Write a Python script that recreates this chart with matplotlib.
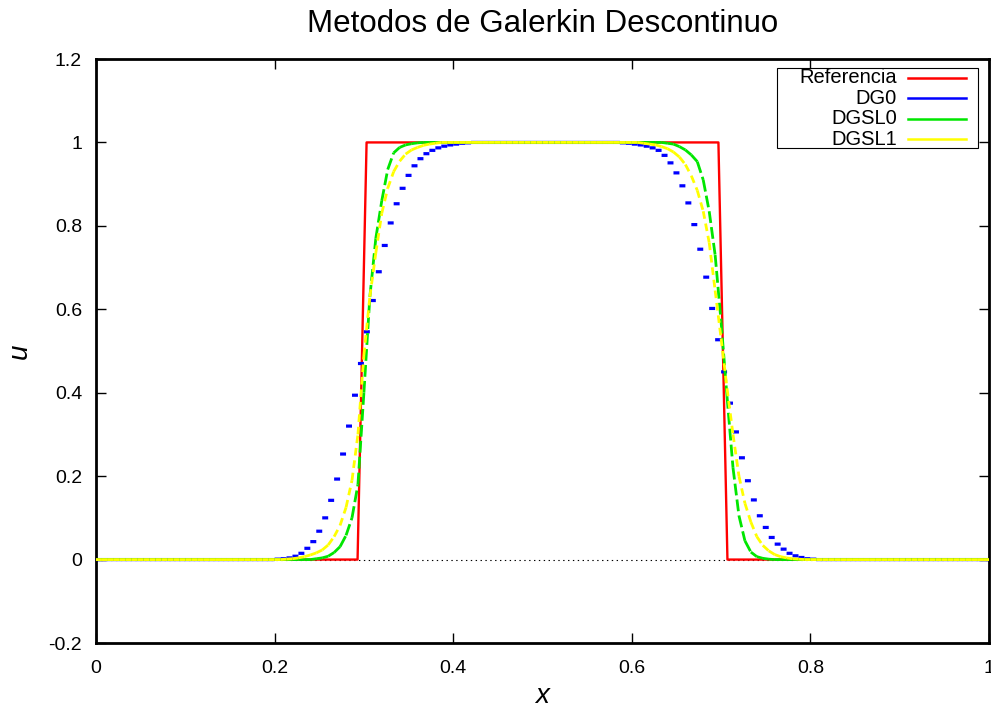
import numpy as np
import matplotlib.pyplot as plt
from matplotlib.collections import LineCollection
from matplotlib.patches import Rectangle

plt.rcParams['font.family'] = ['Liberation Sans', 'DejaVu Sans']
plt.rcParams['lines.scale_dashes'] = False

# mesh: 150 cells on [0, 1]
n_cells = 150
edges = np.linspace(0.0, 1.0, n_cells + 1)

# reference square pulse (sampled on 100 points)
ref_x = [0.0, 0.2929, 0.3030, 0.6970, 0.7071, 1.0]
ref_u = [0.0, 0.0, 1.0, 1.0, 0.0, 0.0]

# DG0: one constant per cell (cells 30..62 and 88..120)
dg0_left = [0.001, 0.002, 0.004, 0.008, 0.015, 0.027, 0.043, 0.068, 0.100, 0.142,
            0.193, 0.253, 0.320, 0.394, 0.470, 0.546, 0.621, 0.690, 0.753, 0.807,
            0.853, 0.890, 0.921, 0.944, 0.961, 0.973, 0.981, 0.987, 0.991, 0.994,
            0.996, 0.998, 0.999]
dg0_right = [0.999, 0.998, 0.996, 0.994, 0.991, 0.987, 0.981, 0.969, 0.951, 0.927,
             0.896, 0.855, 0.803, 0.744, 0.677, 0.602, 0.527, 0.450, 0.375, 0.306,
             0.244, 0.189, 0.143, 0.105, 0.077, 0.053, 0.037, 0.025, 0.015, 0.009,
             0.005, 0.002, 0.001]
dg0 = [0.0] * 30 + dg0_left + [1.0] * 25 + dg0_right + [0.0] * 29

# DGSL0: nodal values (nodes 37..54 and 96..113)
dgsl0_left = [0.002, 0.004, 0.008, 0.017, 0.031, 0.058, 0.10, 0.18, 0.40, 0.63,
              0.77, 0.86, 0.935, 0.975, 0.988, 0.994, 0.997, 0.999]
dgsl0_right = [0.998, 0.996, 0.99, 0.982, 0.97, 0.954, 0.91, 0.835, 0.73, 0.57,
               0.39, 0.22, 0.105, 0.045, 0.018, 0.007, 0.003, 0.001]
dgsl0 = [0.0] * 37 + dgsl0_left + [1.0] * 41 + dgsl0_right + [0.0] * 37

# DGSL1: nodal values (nodes 32..57 and 92..118)
dgsl1_left = [0.001, 0.002, 0.004, 0.007, 0.011, 0.016, 0.023, 0.035, 0.055, 0.082,
              0.125, 0.19, 0.30, 0.49, 0.63, 0.735, 0.83, 0.89, 0.93, 0.955,
              0.972, 0.982, 0.988, 0.993, 0.996, 0.998]
dgsl1_right = [0.998, 0.996, 0.994, 0.99, 0.985, 0.977, 0.965, 0.947, 0.92, 0.885,
               0.835, 0.76, 0.645, 0.53, 0.41, 0.30, 0.20, 0.135, 0.09, 0.055,
               0.034, 0.021, 0.012, 0.007, 0.004, 0.002, 0.001]
dgsl1 = [0.0] * 32 + dgsl1_left + [1.0] * 34 + dgsl1_right + [0.0] * 32

xticks = [0, 0.2, 0.4, 0.6, 0.8, 1]
xtick_labels = ["0", "0.2", "0.4", "0.6", "0.8", "1"]
yticks = [-0.2, 0, 0.2, 0.4, 0.6, 0.8, 1, 1.2]
ytick_labels = ["-0.2", "0", "0.2", "0.4", "0.6", "0.8", "1", "1.2"]

names = ["Referencia", "DG0", "DGSL0", "DGSL1"]
colors = ["#ff0000", "#0000ff", "#00e600", "#ffff00"]

fig = plt.figure(figsize=(9.91, 7.11), dpi=100)
ax = fig.add_axes([96 / 991, 68 / 711, 893 / 991, 584 / 711])

ax.axhline(0, color="black", lw=0.8, linestyle=(0, (1, 2.5)), zorder=1)

ax.plot(ref_x, ref_u, color=colors[0], lw=1.7, zorder=2)

# DG0: horizontal piece per cell
seg0 = [[(edges[i], v), (edges[i + 1], v)] for i, v in enumerate(dg0)]
lc = LineCollection(seg0, colors=colors[1], linewidths=2.3, capstyle="butt", zorder=3)
lc.set_snap(False)
ax.add_collection(lc)

# DGSL: linear piece per cell, each drawn on its own so the dashes restart
for k in range(n_cells):
    ax.plot(edges[k:k + 2], dgsl0[k:k + 2], color=colors[2], lw=2.0, snap=False,
            dashes=(8.5, 3.0), solid_capstyle="butt", dash_capstyle="butt", zorder=4)
for k in range(n_cells):
    ax.plot(edges[k:k + 2], dgsl1[k:k + 2], color=colors[3], lw=2.0, snap=False,
            dashes=(5.5, 3.5), solid_capstyle="butt", dash_capstyle="butt", zorder=5)

ax.set_xlim(0, 1)
ax.set_ylim(-0.2, 1.2)
ax.set_xticks(xticks)
ax.set_xticklabels(xtick_labels)
ax.set_yticks(yticks)
ax.set_yticklabels(ytick_labels)
ax.tick_params(direction="in", length=7, width=1, top=True, right=True,
               labelsize=14, pad=10)
ax.tick_params(axis="x", pad=12)
for s in ax.spines.values():
    s.set_linewidth(2)

ax.set_xlabel("x", fontsize=20, fontstyle="italic")
ax.xaxis.set_label_coords(0.5, -0.091)
ax.xaxis.label.set_va("center")
ax.set_ylabel("u", fontsize=20, fontstyle="italic")
ax.yaxis.set_label_coords(-0.085, 0.5)
ax.yaxis.label.set_va("center")

ax.text(0.5, 1.06, "Metodos de Galerkin Descontinuo", transform=ax.transAxes,
        ha="center", va="center", fontsize=22.5)

# legend box, gnuplot style
ax.add_patch(Rectangle((0.7626, 0.8476), 0.2251, 0.137, transform=ax.transAxes,
                       facecolor="white", edgecolor="black", lw=0.8, zorder=6))
rows = [0.9675, 0.9332, 0.8973, 0.863]
for name, c, yy in zip(names, colors, rows):
    ax.text(0.897, yy, name, transform=ax.transAxes, ha="right", va="center",
            fontsize=14.5, zorder=7)
    ax.plot([0.9093, 0.9742], [yy, yy], transform=ax.transAxes, color=c,
            lw=1.8, zorder=7)

fig.savefig("out.png", dpi=100)
